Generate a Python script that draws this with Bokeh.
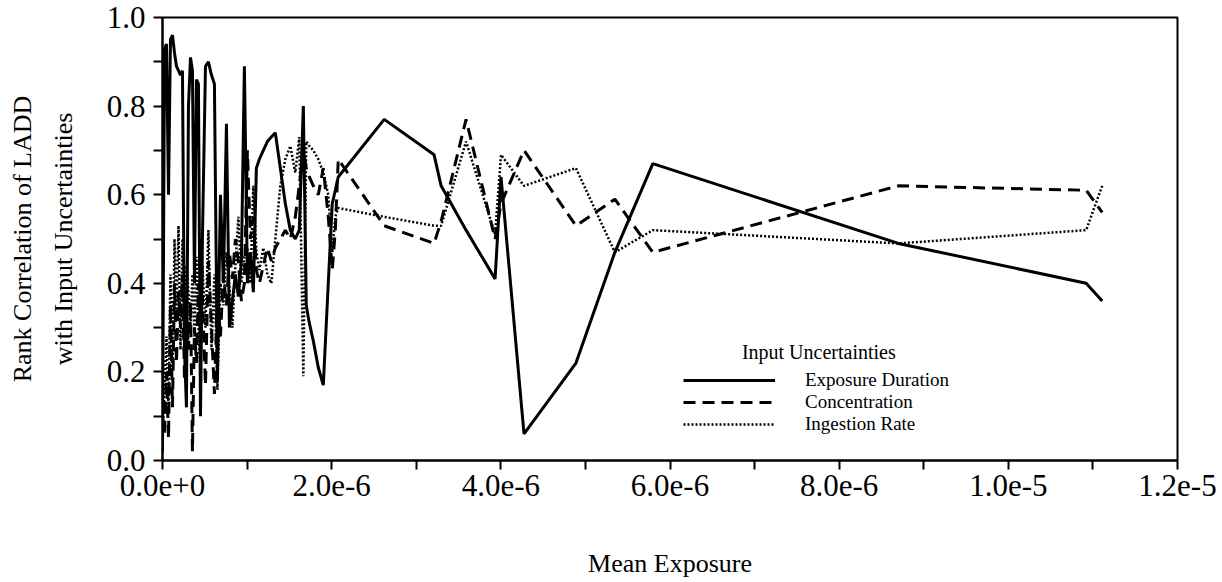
from bokeh.plotting import figure
from bokeh.models import (FixedTicker, CustomJSTickFormatter, PrintfTickFormatter,
                          Legend, LegendItem, Label, Range1d)
from bokeh.embed import file_html
from bokeh.resources import INLINE

# ---- data ----
mean_exposure = [
    0.000e-6, 0.024e-6, 0.047e-6, 0.071e-6, 0.094e-6, 0.118e-6, 0.142e-6, 0.165e-6,
    0.189e-6, 0.213e-6, 0.236e-6, 0.260e-6, 0.283e-6, 0.307e-6, 0.331e-6, 0.354e-6,
    0.378e-6, 0.401e-6, 0.425e-6, 0.449e-6, 0.472e-6, 0.508e-6, 0.543e-6, 0.579e-6,
    0.614e-6, 0.649e-6, 0.685e-6, 0.720e-6, 0.756e-6, 0.791e-6, 0.826e-6, 0.862e-6,
    0.897e-6, 0.933e-6, 0.968e-6, 1.004e-6, 1.039e-6, 1.074e-6, 1.110e-6, 1.145e-6,
    1.192e-6, 1.240e-6, 1.287e-6, 1.334e-6, 1.393e-6, 1.452e-6, 1.511e-6, 1.570e-6,
    1.617e-6, 1.665e-6, 1.700e-6, 1.736e-6, 1.783e-6, 1.842e-6, 1.901e-6, 1.960e-6,
    2.007e-6, 2.043e-6, 2.078e-6, 2.621e-6, 3.211e-6, 3.294e-6, 3.589e-6, 3.932e-6,
    4.002e-6, 4.274e-6, 4.888e-6, 5.348e-6, 5.797e-6, 8.700e-6, 10.92e-6, 11.11e-6,
]
exposure_duration = [
    0.02, 0.93, 0.94, 0.60, 0.95, 0.96, 0.92, 0.89,
    0.88, 0.87, 0.88, 0.25, 0.12, 0.80, 0.91, 0.88,
    0.40, 0.86, 0.85, 0.10, 0.50, 0.89, 0.90, 0.87,
    0.85, 0.18, 0.60, 0.40, 0.76, 0.30, 0.36, 0.42,
    0.37, 0.45, 0.89, 0.40, 0.47, 0.38, 0.66, 0.68,
    0.70, 0.72, 0.73, 0.74, 0.66, 0.58, 0.52, 0.50,
    0.52, 0.80, 0.35, 0.31, 0.27, 0.21, 0.17, 0.40,
    0.58, 0.61, 0.64, 0.77, 0.69, 0.62, 0.52, 0.41,
    0.64, 0.06, 0.22, 0.47, 0.67, 0.49, 0.40, 0.36,
]
concentration = [
    0.10, 0.06, 0.20, 0.05, 0.35, 0.12, 0.40, 0.22,
    0.38, 0.30, 0.42, 0.18, 0.33, 0.25, 0.36, 0.02,
    0.30, 0.22, 0.40, 0.30, 0.37, 0.17, 0.45, 0.30,
    0.15, 0.38, 0.28, 0.42, 0.35, 0.47, 0.41, 0.50,
    0.45, 0.36, 0.40, 0.70, 0.50, 0.55, 0.43, 0.40,
    0.44, 0.48, 0.45, 0.48, 0.50, 0.52, 0.50, 0.55,
    0.62, 0.70, 0.66, 0.64, 0.62, 0.60, 0.66, 0.55,
    0.43, 0.52, 0.68, 0.53, 0.49, 0.54, 0.77, 0.50,
    0.58, 0.70, 0.53, 0.59, 0.47, 0.62, 0.61, 0.56,
]
ingestion_rate = [
    0.06, 0.15, 0.28, 0.12, 0.42, 0.20, 0.50, 0.33,
    0.53, 0.25, 0.50, 0.32, 0.44, 0.38, 0.30, 0.42,
    0.28, 0.46, 0.30, 0.20, 0.44, 0.30, 0.52, 0.25,
    0.42, 0.16, 0.40, 0.35, 0.47, 0.39, 0.30, 0.44,
    0.55, 0.40, 0.46, 0.48, 0.40, 0.62, 0.47, 0.43,
    0.48, 0.42, 0.40, 0.50, 0.62, 0.68, 0.71, 0.65,
    0.73, 0.19, 0.72, 0.71, 0.70, 0.68, 0.65, 0.60,
    0.47, 0.55, 0.57, 0.55, 0.53, 0.53, 0.72, 0.51,
    0.69, 0.62, 0.66, 0.47, 0.52, 0.49, 0.52, 0.62,
]
series_names = ["Exposure Duration", "Concentration", "Ingestion Rate"]
legend_title = "Input Uncertainties"
x_major_ticks = [0.0, 2e-6, 4e-6, 6e-6, 8e-6, 1e-5, 1.2e-5]
x_minor_ticks = [1e-6, 3e-6, 5e-6, 7e-6, 9e-6, 1.1e-5]
y_major_ticks = [0.0, 0.2, 0.4, 0.6, 0.8, 1.0]
y_minor_ticks = [0.1, 0.3, 0.5, 0.7, 0.9]

FONT = "Liberation Serif"

p = figure(frame_width=1015, frame_height=443,
           min_border_left=162, min_border_right=43,
           min_border_top=17, min_border_bottom=120,
           x_range=Range1d(0, 1.2e-5), y_range=Range1d(0, 1.0),
           output_backend="svg", toolbar_location=None)

p.xgrid.grid_line_color = None
p.ygrid.grid_line_color = None
p.outline_line_color = "black"
p.outline_line_width = 2
p.outline_line_alpha = 1.0
p.background_fill_color = "white"
p.border_fill_color = "white"

r_dot = p.line(mean_exposure, ingestion_rate, line_color="black", line_width=2.5,
               line_dash="2 2")
r_dash = p.line(mean_exposure, concentration, line_color="black", line_width=3,
                line_dash="12 7")
r_solid = p.line(mean_exposure, exposure_duration, line_color="black", line_width=3)

# axes
for ax in (p.xaxis[0], p.yaxis[0]):
    ax.axis_line_width = 2
    ax.major_tick_line_width = 2
    ax.minor_tick_line_width = 2
    ax.major_tick_in = 0
    ax.major_tick_out = 9
    ax.minor_tick_in = 0
    ax.minor_tick_out = 9
    ax.major_label_text_font = FONT
    ax.major_label_text_font_size = "31px"
    ax.major_label_text_color = "black"
    ax.axis_label_text_font = FONT
    ax.axis_label_text_font_size = "26px"
    ax.axis_label_text_font_style = "normal"
    ax.axis_label_text_color = "black"

p.xaxis.ticker = FixedTicker(ticks=x_major_ticks, minor_ticks=x_minor_ticks)
p.xaxis.formatter = CustomJSTickFormatter(code="return tick.toExponential(1);")
p.xaxis.axis_label = "Mean Exposure"
p.xaxis.major_label_standoff = 5
p.xaxis.axis_label_standoff = 50

p.yaxis.ticker = FixedTicker(ticks=y_major_ticks, minor_ticks=y_minor_ticks)
p.yaxis.formatter = PrintfTickFormatter(format="%.1f")
p.yaxis.axis_label = "Rank Correlation of LADD\nwith Input Uncertainties"
p.yaxis.axis_label_text_line_height = 1.4
p.yaxis.major_label_standoff = 8
p.yaxis.axis_label_standoff = 26

# legend: one single-row legend per entry so rows can sit tightly
row_bottoms = [69, 47, 25]
for name, rend, yb in zip(series_names, [r_solid, r_dash, r_dot], row_bottoms):
    lg = Legend(items=[LegendItem(label=name, renderers=[rend])], location=(521, yb))
    lg.glyph_width = 92
    lg.glyph_height = 22
    lg.label_height = 22
    lg.label_standoff = 30
    lg.spacing = 0
    lg.padding = 0
    lg.margin = 0
    lg.border_line_color = None
    lg.background_fill_alpha = 0
    lg.label_text_font = FONT
    lg.label_text_font_size = "19px"
    lg.label_text_color = "black"
    p.add_layout(lg, "center")

title_lbl = Label(x=6.85e-6, y=0.246, text=legend_title,
                  text_font=FONT, text_font_size="20px", text_color="black",
                  text_align="left", text_baseline="middle")
p.add_layout(title_lbl)

open("out.html", "w").write(file_html(p, INLINE))
